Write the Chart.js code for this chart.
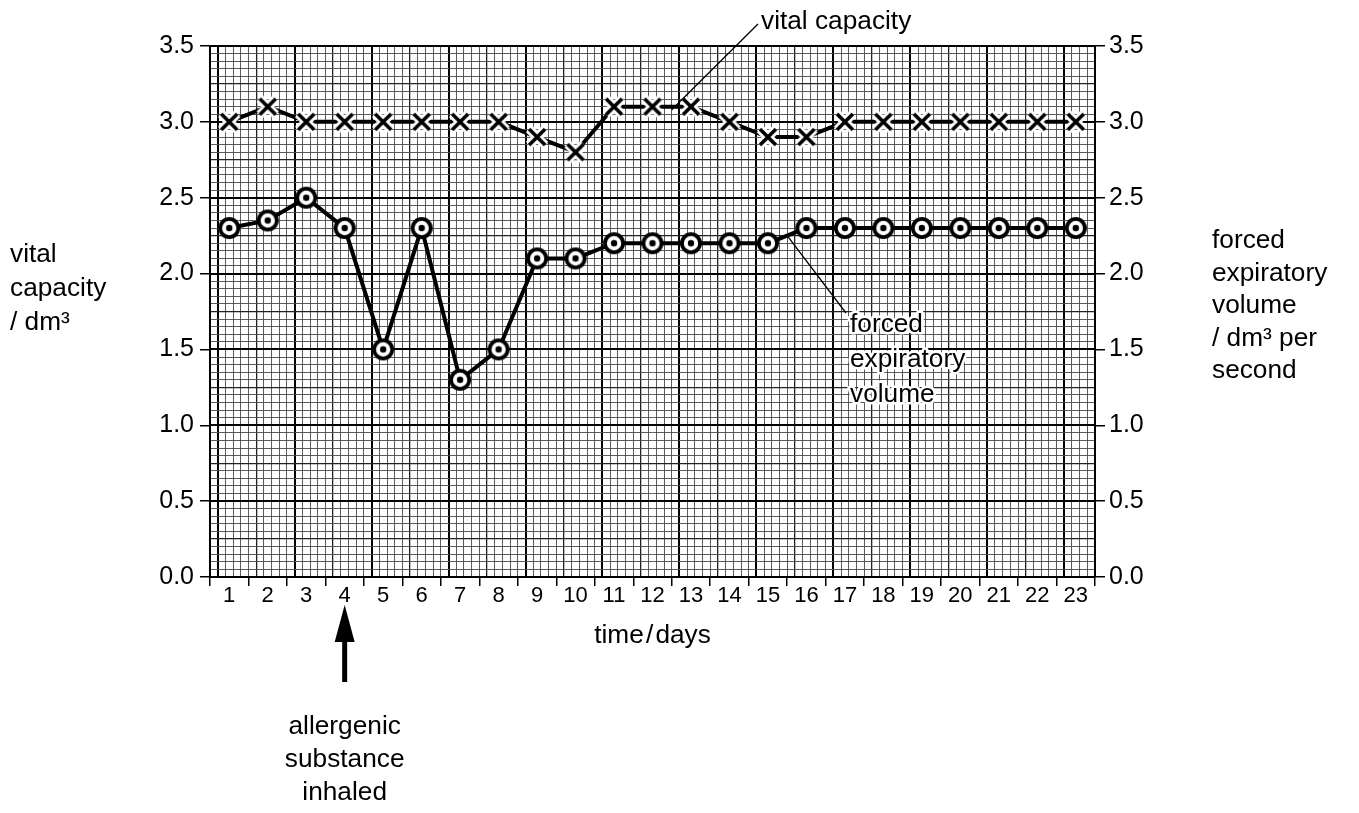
<!DOCTYPE html>
<html>
<head>
<meta charset="utf-8">
<script src="https://cdn.jsdelivr.net/npm/chart.js@4.4.1/dist/chart.umd.min.js"></script>
<style>
  html, body { margin: 0; padding: 0; background: #fff; }
  canvas { display: block; }
</style>
</head>
<body>
<canvas id="chart" width="1359" height="813"></canvas>
<script>
const days = ["1","2","3","4","5","6","7","8","9","10","11","12","13","14","15","16","17","18","19","20","21","22","23"];
const vitalCapacity = [3.0, 3.1, 3.0, 3.0, 3.0, 3.0, 3.0, 3.0, 2.9, 2.8, 3.1, 3.1, 3.1, 3.0, 2.9, 2.9, 3.0, 3.0, 3.0, 3.0, 3.0, 3.0, 3.0];
const forcedExpiratory = [2.3, 2.35, 2.5, 2.3, 1.5, 2.3, 1.3, 1.5, 2.1, 2.1, 2.2, 2.2, 2.2, 2.2, 2.2, 2.3, 2.3, 2.3, 2.3, 2.3, 2.3, 2.3, 2.3];
const yMin = 0;
const yMax = 3.5;
const yStep = 0.5;

const FONT = '"Liberation Sans", Arial, Helvetica, sans-serif';

// marker images
function makeCross() {
  const c = document.createElement("canvas");
  c.width = c.height = 28;
  const g = c.getContext("2d");
  const d = 8;
  g.beginPath();
  g.moveTo(14 - d, 14 - d); g.lineTo(14 + d, 14 + d);
  g.moveTo(14 + d, 14 - d); g.lineTo(14 - d, 14 + d);
  g.strokeStyle = "#fff"; g.lineWidth = 9; g.stroke();
  g.strokeStyle = "#000"; g.lineWidth = 3.6; g.stroke();
  return c;
}

function makeRing() {
  const c = document.createElement("canvas");
  c.width = c.height = 24;
  const g = c.getContext("2d");
  g.fillStyle = "#000";
  g.beginPath(); g.arc(12, 12, 11, 0, Math.PI * 2); g.fill();
  g.fillStyle = "#fff";
  g.beginPath(); g.arc(12, 12, 7.2, 0, Math.PI * 2); g.fill();
  g.fillStyle = "#000";
  g.beginPath(); g.arc(12, 12, 3.2, 0, Math.PI * 2); g.fill();
  return c;
}

function stretchText(ctx, text, x, y, align) {
  ctx.save();
  ctx.translate(x, y);
  ctx.scale(1.05, 1);
  ctx.textAlign = align || "left";
  ctx.fillText(text, 0, 0);
  ctx.restore();
}

const notes = {
  id: "notes",
  afterDraw(chart) {
    const ctx = chart.ctx;
    const x = chart.scales.x;
    const y = chart.scales.y;
    ctx.save();
    ctx.fillStyle = "#000";
    ctx.strokeStyle = "#000";
    ctx.textBaseline = "alphabetic";
    ctx.font = "25px " + FONT;

    // left axis title
    ["vital", "capacity", "/ dm\u00b3"].forEach((t, i) => stretchText(ctx, t, 10, 262 + i * 34));
    // right axis title
    ["forced", "expiratory", "volume", "/ dm\u00b3 per", "second"].forEach((t, i) => stretchText(ctx, t, 1212, 248 + i * 32.5));

    // x axis title
    stretchText(ctx, "time\u200a/\u200adays", (x.left + x.right) / 2, 643, "center");

    // arrow at day 4
    const ax = x.getPixelForValue(3);
    ctx.beginPath();
    ctx.moveTo(ax, 605);
    ctx.lineTo(ax - 10, 642);
    ctx.lineTo(ax + 10, 642);
    ctx.closePath();
    ctx.fill();
    ctx.fillRect(ax - 2.5, 640, 5, 42);
    ["allergenic", "substance", "inhaled"].forEach((t, i) => stretchText(ctx, t, ax, 734 + i * 33, "center"));

    // vital capacity label
    const vx = (x.getPixelForValue(11) + x.getPixelForValue(12)) / 2;
    ctx.lineWidth = 1.3;
    ctx.beginPath();
    ctx.moveTo(vx, y.getPixelForValue(3.08));
    ctx.lineTo(758, 24);
    ctx.stroke();
    stretchText(ctx, "vital capacity", 761, 29);

    // forced expiratory volume label
    const fx = (x.getPixelForValue(14) + x.getPixelForValue(15)) / 2;
    ctx.beginPath();
    ctx.moveTo(fx, y.getPixelForValue(2.25));
    ctx.lineTo(846, 313);
    ctx.stroke();
    ["forced", "expiratory", "volume"].forEach((t, i) => {
      ctx.save();
      ctx.translate(850, 332 + i * 35);
      ctx.scale(1.05, 1);
      ctx.lineWidth = 5;
      ctx.strokeStyle = "#fff";
      ctx.lineJoin = "round";
      ctx.strokeText(t, 0, 0);
      ctx.fillText(t, 0, 0);
      ctx.restore();
    });
    ctx.restore();
  }
};

function paperColor(n) {
  if (n % 10 === 0) return "#000";
  if (n % 5 === 0) return "#222";
  return "#4a4a4a";
}
function paperWidth(n) {
  if (n % 10 === 0) return 2;
  if (n % 5 === 0) return 1.3;
  return 0.9;
}

new Chart(document.getElementById("chart"), {
  type: "line",
  data: {
    labels: days,
    datasets: [
      {
        label: "vital capacity",
        data: vitalCapacity,
        borderColor: "#000",
        borderWidth: 4,
        pointStyle: makeCross(),
        pointRadius: 9,
        xAxisID: "x",
        yAxisID: "y"
      },
      {
        label: "forced expiratory volume",
        data: forcedExpiratory,
        borderColor: "#000",
        borderWidth: 4,
        pointStyle: makeRing(),
        pointRadius: 9,
        xAxisID: "x",
        yAxisID: "y"
      }
    ]
  },
  options: {
    responsive: false,
    animation: false,
    events: [],
    layout: { padding: { left: 150, right: 204, top: 46, bottom: 196 } },
    plugins: { legend: { display: false }, tooltip: { enabled: false } },
    scales: {
      gx: {
        type: "linear", position: "top", min: 0, max: 115,
        ticks: { display: false, stepSize: 1, autoSkip: false },
        border: { display: false },
        grid: {
          drawTicks: false,
          color: c => paperColor(c.tick.value + 9),
          lineWidth: c => paperWidth(c.tick.value + 9)
        },
        afterFit(s) { s.height = 0; }
      },
      gy: {
        type: "linear", position: "left", min: 0, max: 70,
        ticks: { display: false, stepSize: 1, autoSkip: false },
        border: { display: false },
        grid: {
          drawTicks: false,
          color: c => paperColor(c.index),
          lineWidth: c => paperWidth(c.index)
        },
        afterFit(s) { s.width = 0; }
      },
      x: {
        type: "category",
        offset: true,
        grid: { offset: true, drawOnChartArea: false, tickLength: 9, color: "#000", lineWidth: 1.5 },
        border: { color: "#000", width: 2 },
        ticks: { color: "#000", font: { family: FONT, size: 22 }, padding: -3, maxRotation: 0, autoSkip: false },
        afterFit(s) { s.height = 40; }
      },
      y: {
        position: "left", min: yMin, max: yMax,
        grid: { drawOnChartArea: false, tickLength: 10, color: "#000", lineWidth: 1.5 },
        border: { color: "#000", width: 2 },
        ticks: { stepSize: yStep, color: "#000", font: { family: FONT, size: 25 }, padding: 6, callback: v => v.toFixed(1) },
        afterFit(s) { s.width = 60; }
      },
      y2: {
        position: "right", min: yMin, max: yMax,
        grid: { drawOnChartArea: false, tickLength: 10, color: "#000", lineWidth: 1.5 },
        border: { color: "#000", width: 2 },
        ticks: { stepSize: yStep, color: "#000", font: { family: FONT, size: 25 }, padding: 4, callback: v => v.toFixed(1) },
        afterFit(s) { s.width = 60; }
      }
    }
  },
  plugins: [notes]
});
</script>
</body>
</html>
